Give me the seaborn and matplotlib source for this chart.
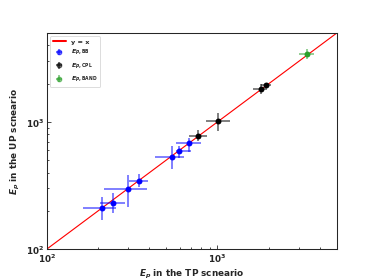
import numpy as np
import matplotlib
matplotlib.use("Agg")
import matplotlib.pyplot as plt
import seaborn as sns

sns.set_style("ticks")
plt.rcParams['font.family'] = ['DejaVu Sans']
plt.rcParams['font.weight'] = 'bold'
plt.rcParams['axes.labelweight'] = 'bold'
plt.rcParams['mathtext.fontset'] = 'custom'
plt.rcParams['mathtext.rm'] = 'DejaVu Sans:bold'
plt.rcParams['mathtext.bf'] = 'DejaVu Sans:bold'
plt.rcParams['mathtext.it'] = 'DejaVu Sans:bold:italic'
plt.rcParams['xtick.direction'] = 'in'
plt.rcParams['ytick.direction'] = 'in'

# Ep values (TP scenario on x, UP scenario on y) with lower / upper bounds
bb_x = [210, 246, 300, 349, 545, 596, 686]
bb_x_lo = [164, 205, 217, 304, 429, 570, 570]
bb_x_hi = [254, 286, 389, 392, 637, 698, 799]
bb_y = [211, 231, 297, 346, 535, 594, 679]
bb_y_lo = [169, 191, 215, 310, 425, 523, 586]
bb_y_hi = [255, 275, 383, 390, 651, 650, 753]

cpl_x = [774, 1014, 1793, 1919]
cpl_x_lo = [682, 854, 1625, 1811]
cpl_x_hi = [866, 1185, 1963, 2052]
cpl_y = [776, 1013, 1805, 1953]
cpl_y_lo = [704, 844, 1648, 1862]
cpl_y_hi = [871, 1180, 1978, 2040]

band_x = [3336]
band_x_lo = [3006]
band_x_hi = [3680]
band_y = [3418]
band_y_lo = [3119]
band_y_hi = [3743]

line_x = [100, 5000]

fig, ax = plt.subplots(figsize=(6.4, 4.8), dpi=58.44)

sns.lineplot(x=line_x, y=line_x, color='red', lw=1.4, label='y = x', ax=ax)

def draw(x, xlo, xhi, y, ylo, yhi, color, label):
    x = np.array(x); y = np.array(y)
    xerr = [x - np.array(xlo), np.array(xhi) - x]
    yerr = [y - np.array(ylo), np.array(yhi) - y]
    ax.errorbar(x, y, xerr=xerr, yerr=yerr, fmt='o', color=color, ms=6,
                elinewidth=2, capsize=0, alpha=0.6, label=label)
    ax.plot(x, y, 'o', color=color, ms=6)

draw(bb_x, bb_x_lo, bb_x_hi, bb_y, bb_y_lo, bb_y_hi, 'blue', r'$E_{p,\mathrm{BB}}$')
draw(cpl_x, cpl_x_lo, cpl_x_hi, cpl_y, cpl_y_lo, cpl_y_hi, 'black', r'$E_{p,\mathrm{CPL}}$')
draw(band_x, band_x_lo, band_x_hi, band_y, band_y_lo, band_y_hi, '#2ca02c', r'$E_{p,\mathrm{BAND}}$')

ax.set_xscale('log')
ax.set_yscale('log')
ax.set_xlim(100, 5000)
ax.set_ylim(100, 5000)
ax.set_xlabel(r'$E_p$ in the TP scneario', fontsize=11)
ax.set_ylabel(r'$E_p$ in the UP scneario', fontsize=11)
ax.tick_params(which='major', length=5, width=1, labelsize=11)
ax.tick_params(which='minor', length=3, width=1)
for s in ax.spines.values():
    s.set_linewidth(1.3)
leg = ax.legend(loc='upper left', fontsize=8)
leg.get_lines()[0].set_linewidth(2.5)
leg.get_lines()[0].set_color('red')

fig.savefig('out.png', dpi=58.44)
